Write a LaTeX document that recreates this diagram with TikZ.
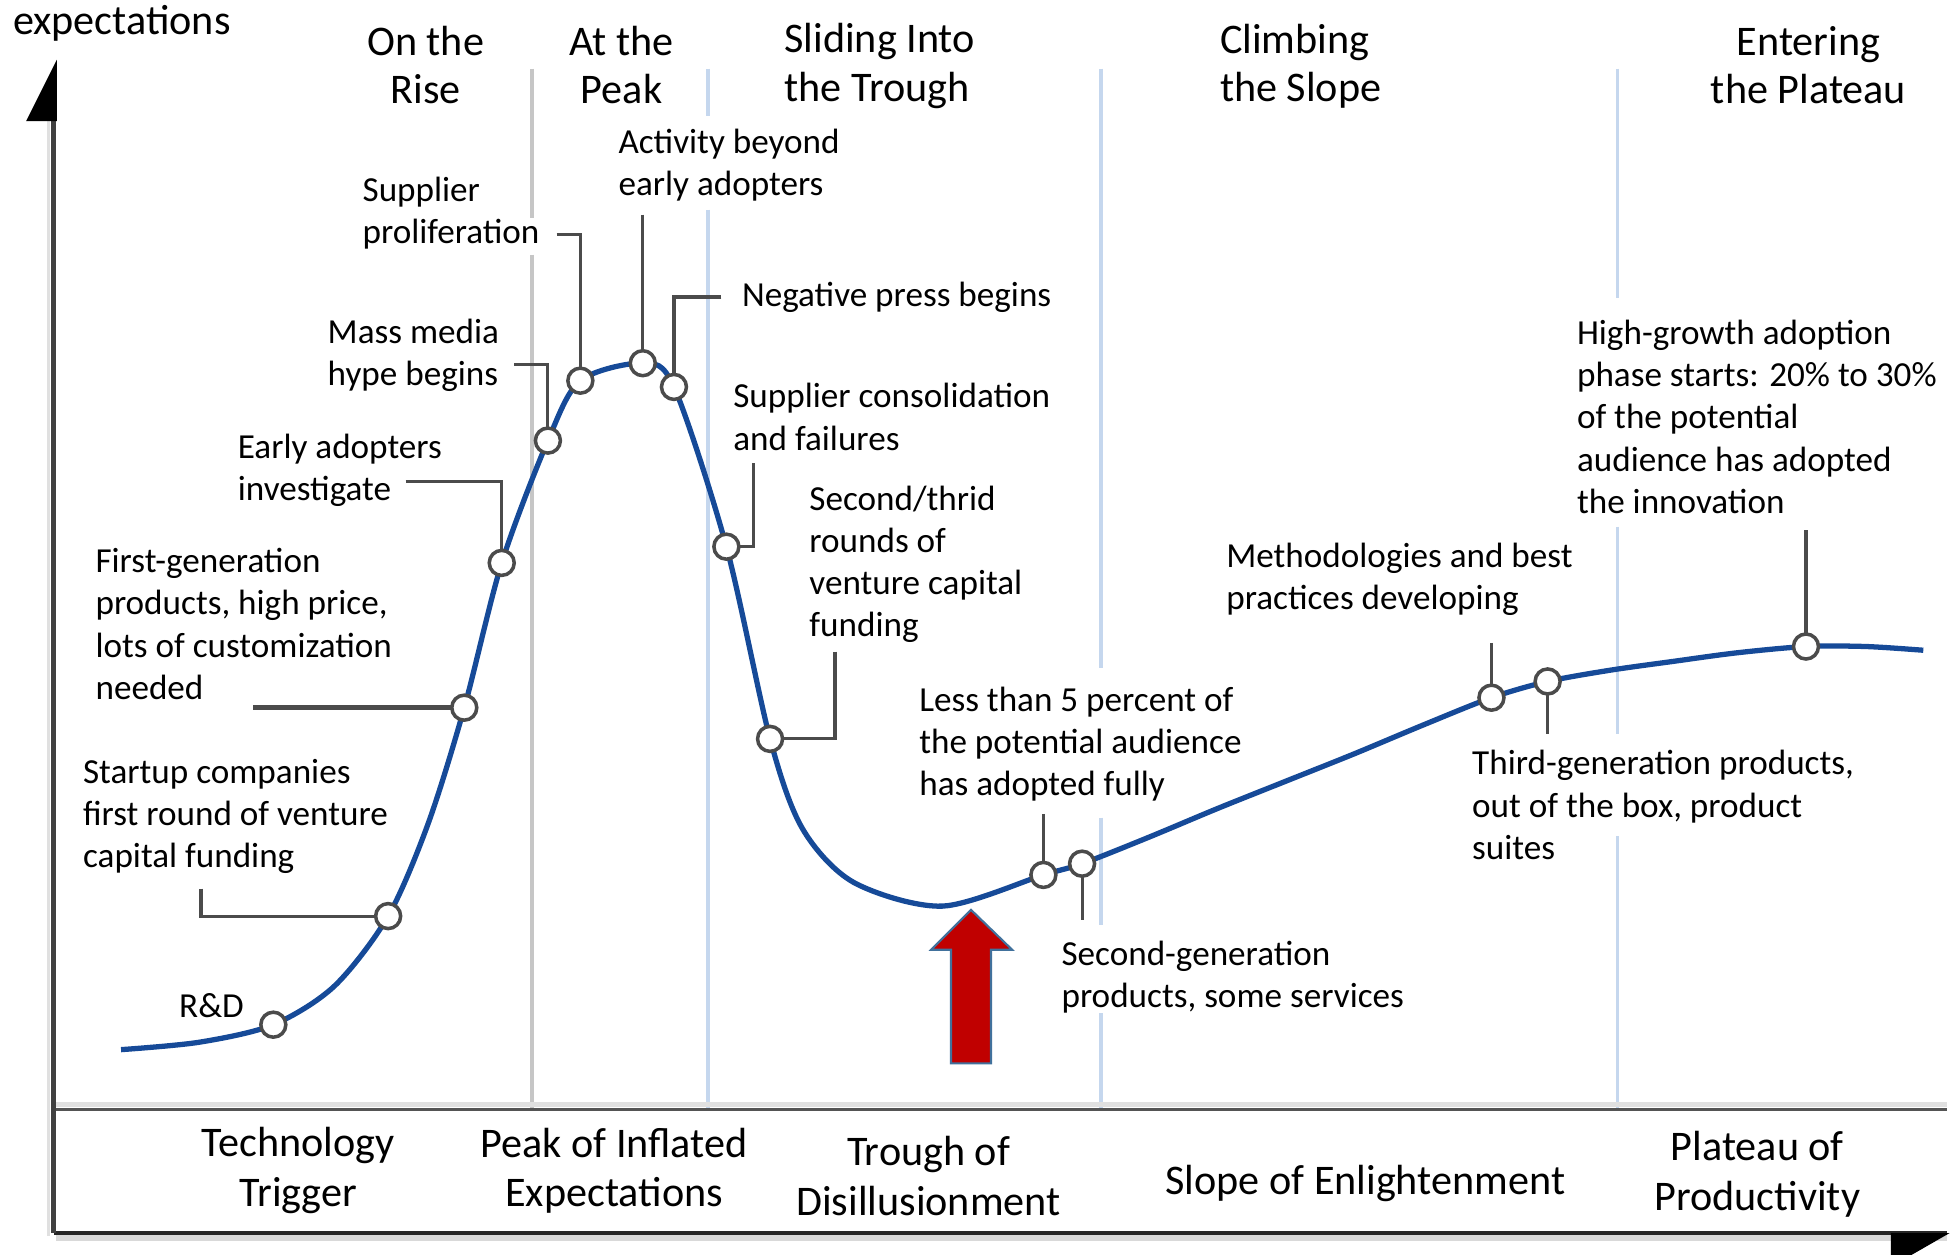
\documentclass[tikz,border=0pt]{standalone}
\usepackage{fontspec}
\setmainfont{Carlito}

\definecolor{hypeblue}{RGB}{22,74,152}
\definecolor{leadgray}{RGB}{75,75,75}
\definecolor{divgray}{RGB}{198,198,198}
\definecolor{divblue}{RGB}{197,215,238}
\definecolor{alarmred}{RGB}{192,0,0}
\definecolor{arrowedge}{RGB}{65,113,156}

\tikzset{
  ring/.style={circle, draw=leadgray, fill=white, line width=1pt, minimum size=2.5mm, inner sep=0pt},
  note/.style={anchor=west, align=left, inner sep=0pt, font=\fontsize{10}{12}\selectfont},
  leader/.style={draw=leadgray, line width=0.9pt},
  phase/.style={align=center, inner sep=0pt, font=\fontsize{12}{13.8}\selectfont},
  stage/.style={align=center, inner sep=0pt, font=\fontsize{12}{14.2}\selectfont},
  divider/.style={line width=1.1pt}
}

\begin{document}
\begin{tikzpicture}[x=0.1248mm, y=-0.1248mm]
  \useasboundingbox (0,0) rectangle (1568,1005);
  \clip (0,0) rectangle (1568,1005);

  % phase dividers
  \draw[divider, draw=divgray] (426,55) -- (426,175) (426,204) -- (426,889);
  \draw[divider, draw=divblue] (567,55) -- (567,93) (567,168) -- (567,889);
  \draw[divider, draw=divblue] (882,55) -- (882,535) (882,655) -- (882,741) (882,812) -- (882,889);
  \draw[divider, draw=divblue] (1296,55) -- (1296,239) (1296,422) -- (1296,588) (1296,670) -- (1296,889);

  % axes
  \draw[line width=1pt, black!12] (39,97) -- (39,990);
  \draw[line width=1.5pt, black!12] (45,885) -- (1560,885);
  \draw[line width=1.5pt, black!15] (45,992) -- (1560,992);
  \draw[line width=1.1pt, black!67] (43,889) -- (1560,889);
  \draw[line width=1.1pt, black!85] (43,988) -- (1560,988);
  \draw[line width=1.3pt, black!75] (43,97) -- (43,988);
  \fill[black] (45.5,48) -- (45.5,97) -- (21,97) -- cycle;
  \fill[black] (1515,988) -- (1562,988) -- (1515,1015) -- cycle;
  \node[anchor=west, inner sep=0pt, font=\fontsize{12}{14}\selectfont] (ylabel) at (10,19) {expectations};

  % phase names
  \node[phase] (rise) at (341,52) {On the\\Rise};
  \node[phase] (peak) at (498,52) {At the\\Peak};
  \node[phase, anchor=west, align=left] (sliding) at (628,53) {Sliding Into\\the Trough};
  \node[phase, anchor=west, align=left] (climbing) at (977,53) {Climbing\\the Slope};
  \node[phase] (entering) at (1449,52) {Entering\\the Plateau};

  \node[stage] (trigger) at (239,938) {Technology\\Trigger};
  \node[stage] (inflated) at (492,938) {Peak of Inflated\\Expectations};
  \node[stage] (trough) at (744,942) {Trough of\\Disillusionment};
  \node[stage] (slope) at (1094,948) {Slope of Enlightenment};
  \node[stage] (plateau) at (1408,941) {Plateau of\\Productivity};

  % points on the curve
  \coordinate (rd) at (219,821);
  \coordinate (startup) at (311,734);
  \coordinate (firstgen) at (372,567);
  \coordinate (early) at (402,451);
  \coordinate (media) at (439,353);
  \coordinate (suppl) at (465,305);
  \coordinate (activity) at (515,291);
  \coordinate (negpress) at (540,310);
  \coordinate (consol) at (582,438);
  \coordinate (vcfund) at (617,592);
  \coordinate (lessfive) at (836,701);
  \coordinate (secgen) at (867,692);
  \coordinate (method) at (1195,559);
  \coordinate (thirdgen) at (1240,546);
  \coordinate (highgrowth) at (1447,518);

  \draw[line width=1.5pt, hypeblue] plot[smooth, tension=0.5] coordinates {(97,841) (160,835) (rd) (268,790) (startup) (343,660) (firstgen) (early) (media) (suppl) (activity) (negpress) (consol) (vcfund) (643,664) (684,707) (755,726) (lessfive) (secgen) (920,671) (975,648) (1030,626) (1085,604) (1140,581) (method) (thirdgen) (1290,537) (1340,530) (1392,523) (highgrowth) (1495,518) (1541,521)};

  % notes
  \node[note] (rdtext) at (143,806) {R\&D};
  \node[note] (startuptext) at (66,654) {Startup companies\\first round of venture\\capital funding};
  \node[note] (firstgentext) at (76,500) {First-generation\\products, high price,\\lots of customization\\needed};
  \node[note] (earlytext) at (190,377) {Early adopters\\investigate};
  \node[note] (mediatext) at (262,285) {Mass media\\hype begins};
  \node[note] (suppltext) at (290,171) {Supplier\\proliferation};
  \node[note] (activitytext) at (495,132) {Activity beyond\\early adopters};
  \node[note] (negpresstext) at (594,238) {Negative press begins};
  \node[note] (consoltext) at (587,334) {Supplier consolidation\\and failures};
  \node[note] (vcfundtext) at (648,452) {Second/thrid\\rounds of\\venture capital\\funding};
  \node[note] (lessfivetext) at (736,596) {Less than 5 percent of\\the potential audience\\has adopted fully};
  \node[note] (secgentext) at (850,783) {Second-generation\\products, some services};
  \node[note] (methodtext) at (982,464) {Methodologies and best\\practices developing};
  \node[note] (thirdgentext) at (1179,645) {Third-generation products,\\out of the box, product\\suites};
  \node[note] (highgrowthtext) at (1263,334) {High-growth adoption\\phase starts: 20\% to 30\%\\of the potential\\audience has adopted\\the innovation};

  % leaders
  \coordinate (startupend) at (161,712);
  \coordinate (firstgenend) at (203,567);
  \coordinate (earlyend) at (325,386);
  \coordinate (mediaend) at (412,292);
  \coordinate (supplend) at (446,188);
  \coordinate (activityend) at (515,172);
  \coordinate (negpressend) at (578,238);
  \coordinate (consolend) at (604,371);
  \coordinate (vcfundend) at (669,522);
  \coordinate (lessfiveend) at (836,652);
  \coordinate (secgenend) at (867,737);
  \coordinate (methodend) at (1195,515);
  \coordinate (thirdgenend) at (1240,588);
  \coordinate (highgrowthend) at (1447,425);
  \draw[leader] (startupend) |- (startup);
  \draw[leader, line width=1.3pt] (firstgenend) -- (firstgen);
  \draw[leader] (earlyend) -| (early);
  \draw[leader] (mediaend) -| (media);
  \draw[leader] (supplend) -| (suppl);
  \draw[leader] (activityend) -- (activity);
  \draw[leader] (negpressend) -| (negpress);
  \draw[leader] (consolend) |- (consol);
  \draw[leader] (vcfundend) |- (vcfund);
  \draw[leader] (lessfiveend) -- (lessfive);
  \draw[leader] (secgen) -- (secgenend);
  \draw[leader] (methodend) -- (method);
  \draw[leader] (thirdgen) -- (thirdgenend);
  \draw[leader] (highgrowthend) -- (highgrowth);

  \foreach \p in {rd,startup,firstgen,early,media,suppl,activity,negpress,consol,vcfund,lessfive,secgen,method,thirdgen,highgrowth}
    \node[ring] at (\p) {};

  % trough arrow
  \filldraw[fill=alarmred, draw=arrowedge, line width=0.6pt] (778,729) -- (811,761) -- (794,761) -- (794,852) -- (762,852) -- (762,761) -- (746,761) -- cycle;
\end{tikzpicture}
\end{document}
